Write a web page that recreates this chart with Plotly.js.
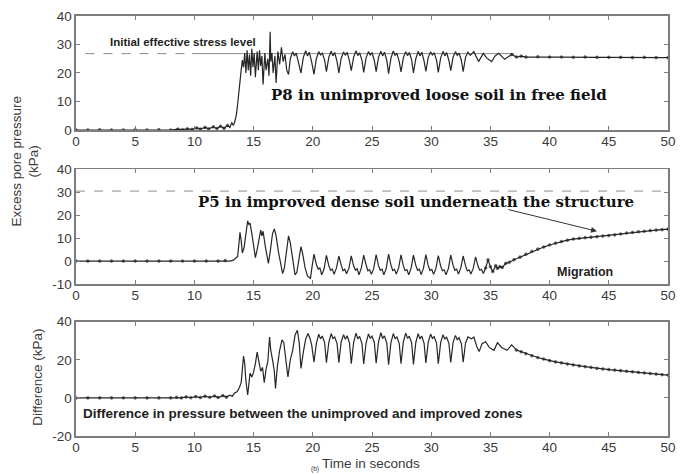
<!DOCTYPE html>
<html>
<head>
<meta charset="utf-8">
<script src="https://cdn.plot.ly/plotly-3.0.1.min.js"></script>
<style>
  html, body { margin: 0; padding: 0; background: #fff; }
  #chart { width: 686px; height: 474px; }
</style>
</head>
<body>
<div id="chart"></div>
<script>
// Excess pore pressure records (time in s, pressure in kPa)

// P8: unimproved loose soil, free field
const p8Series = [
  [0,0],[1,0],[2,0.1],[3,0],[4,0],[5,0.1],[6,0],[7,0.1],[8,0],[8.6,0.3],[9.0,0.1],[9.4,0.4],
  [9.8,0.2],[10.2,0.7],[10.5,0.3],[10.9,0.9],[11.2,0.4],[11.6,1.1],[11.9,0.5],[12.2,1.3],
  [12.5,0.6],[12.8,1.6],[13.0,0.9],[13.15,2.6],[13.3,1.6],[13.45,3.5],[13.55,5.5],[13.65,9],
  [13.75,14],[13.85,18],[13.95,21],[14.05,24.5],[14.15,22],[14.25,27],[14.35,20],[14.45,28],
  [14.55,21],[14.65,26.5],[14.75,19],[14.85,28.5],[14.95,22],[15.05,27],[15.15,18.5],[15.3,27.5],
  [15.4,21],[15.5,28],[15.6,22.5],[15.7,26],[15.8,16],[15.95,27],[16.05,21],[16.2,25],[16.3,19],
  [16.4,34.5],[16.45,24],[16.55,27],[16.65,20],[16.8,26],[16.9,16.5],[17.05,27.5],[17.2,23],
  [17.35,29],[17.5,24],[17.65,26.5],[17.8,21],[17.95,19.5],[18.1,25],[18.3,27.5],[18.45,26],
  [18.6,27],[18.8,23],[19.0,20],
  [19.2,25.5],[19.4,27.8],[19.55,26.0],[19.7,27.3],[19.9,24.0],
  [20.1,19.5],[20.3,25.0],[20.5,27.5],[20.65,26.3],[20.8,27.0],[21.0,24.5],
  [21.15,20.5],[21.35,25.5],[21.55,27.6],[21.7,26.0],[21.85,27.2],[22.05,24.0],
  [22.2,20.0],[22.4,25.2],[22.6,27.4],[22.75,26.2],[22.9,27.3],[23.1,24.2],
  [23.25,20.8],[23.45,25.6],[23.65,27.8],[23.8,26.1],[23.95,27.1],[24.15,24.5],
  [24.3,20.2],[24.5,25.3],[24.7,27.5],[24.85,26.3],[25.0,27.2],[25.2,24.3],
  [25.35,20.5],[25.55,25.5],[25.75,27.6],[25.9,26.0],[26.05,27.3],[26.25,24.4],
  [26.4,19.8],[26.6,25.2],[26.8,27.7],[26.95,26.2],[27.1,27.0],[27.3,24.0],
  [27.45,20.4],[27.65,25.4],[27.85,27.5],[28.0,26.1],[28.15,27.2],[28.35,24.6],
  [28.5,20.0],[28.7,25.0],[28.9,27.6],[29.05,26.0],[29.2,27.3],[29.4,24.2],
  [29.55,20.6],[29.75,25.5],[29.95,27.4],[30.1,26.3],[30.25,27.1],[30.45,24.5],
  [30.6,20.2],[30.8,25.3],[31.0,27.6],[31.15,26.0],[31.3,27.2],[31.5,24.3],
  [31.65,20.8],[31.85,25.6],[32.05,27.5],[32.2,26.2],[32.35,27.0],[32.55,24.4],
  [32.7,20.5],[32.9,25.5],[33.1,27.3],[33.3,26.2],[33.6,27.5],
  [34.0,24.0],[34.4,26.9],[34.7,25.2],[35.1,24.0],[35.4,26.0],[35.7,26.9],[36.2,24.8],
  [36.5,25.8],[36.8,26.5],[37.2,25.6],[37.6,25.9],[38,25.6],[39,25.7],[40,25.6],[41,25.6],
  [42,25.5],[43,25.6],[44,25.5],[45,25.5],[46,25.5],[47,25.4],[48,25.5],[49,25.4],[50,25.4]
];

// P5: improved dense soil under the structure
const p5Series = [
  [0,0],[1,0],[2,0],[3,0],[4,0],[5,0],[6,0],[7,0],[8,0],[9,0],[10,0],[11,0],[12,0],[12.6,0.2],
  [13.0,0],[13.3,0.4],[13.5,1.5],[13.65,2],[13.75,7],[13.85,12.5],[13.95,9],[14.05,3.5],
  [14.2,6],[14.35,12],[14.5,17.5],[14.6,16],[14.7,16.5],[14.85,12],[15.0,6],[15.15,1.5],
  [15.3,5],[15.5,12],[15.6,13.5],[15.7,11],[15.8,13],[16.0,6],[16.15,1],[16.25,-1],[16.4,4],
  [16.6,12],[16.75,14],[16.9,11],[17.1,4],[17.3,-2],[17.45,-5.5],[17.6,-3],[17.8,6],[17.95,11],
  [18.1,8],[18.3,0],[18.5,-6],[18.65,-5],[18.85,2],[19.0,6.3],[19.15,3],[19.35,-3],[19.55,-6.5],
  [19.8,-7.5],[19.95,-2],
  [20.1,3.0],[20.3,-1.5],[20.45,-3.5],[20.6,-3.0],[20.75,-6.0],[20.95,-3.5],
  [21.15,2.5],[21.35,-2.0],[21.5,-4.0],[21.65,-3.5],[21.8,-5.8],[22.0,-3.0],
  [22.2,2.2],[22.4,-1.8],[22.55,-4.2],[22.7,-3.6],[22.85,-5.5],[23.05,-3.2],
  [23.25,2.3],[23.45,-2.2],[23.6,-4.0],[23.75,-3.4],[23.9,-6.0],[24.1,-3.0],
  [24.3,2.6],[24.5,-1.6],[24.65,-4.3],[24.8,-3.8],[24.95,-5.8],[25.15,-3.1],
  [25.35,2.8],[25.55,-2.0],[25.7,-4.0],[25.85,-3.5],[26.0,-6.0],[26.2,-3.3],
  [26.4,3.0],[26.6,-1.8],[26.75,-4.1],[26.9,-3.6],[27.05,-5.7],[27.25,-3.0],
  [27.45,2.7],[27.65,-2.1],[27.8,-4.2],[27.95,-3.7],[28.1,-6.0],[28.3,-3.2],
  [28.5,2.6],[28.7,-1.9],[28.85,-4.0],[29.0,-3.5],[29.15,-5.9],[29.35,-3.1],
  [29.55,2.8],[29.75,-2.0],[29.9,-4.1],[30.05,-3.6],[30.2,-5.8],[30.4,-3.2],
  [30.6,2.4],[30.8,-2.2],[30.95,-4.2],[31.1,-3.8],[31.25,-6.0],[31.45,-3.3],
  [31.65,2.6],[31.85,-1.9],[32.0,-4.0],[32.15,-3.5],[32.3,-5.7],[32.5,-3.0],
  [32.7,2.2],[32.9,-2.0],[33.05,-4.3],[33.2,-3.8],[33.35,-5.6],[33.55,-3.2],
  [33.75,1.8],[33.95,-2.2],[34.1,-4.0],[34.25,-3.6],[34.4,-5.4],[34.6,-3.0],
  [34.8,0.5],[35.0,-2.5],[35.2,-4.6],[35.45,-2.0],[35.6,-3.2],[35.8,-2.4],[36.0,-2.8],
  [36.3,-1.0],[36.6,-0.5],[37.0,0.6],[37.5,1.7],[38.0,3.0],[38.5,4.2],[39.0,5.2],[39.5,6.1],
  [40.0,7.0],[40.5,7.8],[41.0,8.5],[41.5,9.1],[42.0,9.6],[42.5,9.9],[43.0,10.2],[43.5,10.4],
  [44.0,10.6],[44.5,10.9],[45.0,11.1],[45.5,11.4],[46.0,11.8],[46.5,12.2],[47.0,12.5],
  [47.5,12.8],[48.0,13.0],[48.5,13.3],[49.0,13.5],[49.5,13.7],[50.0,13.9]
];

// Difference between the unimproved and improved zones
const diffSeries = [
  [0,0],[1,0],[2,0],[3,0],[4,0],[5,0],[6,0],[7,0],[8,0],[8.5,0.3],[8.9,0],[9.3,0.5],[9.7,0.1],
  [10.1,0.7],[10.5,0.2],[10.9,0.9],[11.3,0.3],[11.7,1.0],[12.0,0.2],[12.4,1.2],[12.7,0.4],
  [13.0,1.4],[13.2,0.8],[13.4,2.6],[13.6,3.2],[13.8,5.5],[13.95,8],[14.05,15],[14.15,22],
  [14.25,18],[14.35,9],[14.5,1.5],[14.6,8],[14.7,13],[14.85,11],[15.0,13.5],[15.15,18],
  [15.3,24],[15.45,19],[15.6,14],[15.75,16],[15.9,8],[16.05,15],[16.2,19],[16.35,32],
  [16.45,25],[16.6,20],[16.75,14],[16.85,5],[17.0,16],[17.2,25],[17.4,30.5],[17.55,29],
  [17.7,22],[17.9,11],[18.1,20],[18.3,25],[18.5,33],[18.7,35.5],[18.85,29],[19.0,15.5],
  [19.2,24],[19.4,31],[19.6,33.8],[19.75,31.5],[19.9,28],
  [20.1,18.8],[20.3,28.5],[20.5,33.5],[20.65,31.0],[20.8,32.5],[21.0,29.0],
  [21.15,18.5],[21.35,29.0],[21.55,33.8],[21.7,31.2],[21.85,32.0],[22.05,28.5],
  [22.2,18.5],[22.4,29.5],[22.6,33.2],[22.75,30.8],[22.9,32.6],[23.1,28.8],
  [23.25,18.0],[23.45,29.2],[23.65,34.0],[23.8,31.0],[23.95,32.3],[24.15,28.6],
  [24.3,17.8],[24.5,28.8],[24.7,33.6],[24.85,31.4],[25.0,32.4],[25.2,29.0],
  [25.35,18.2],[25.55,29.4],[25.75,34.2],[25.9,31.2],[26.05,32.6],[26.25,28.7],
  [26.4,17.5],[26.6,29.0],[26.8,33.8],[26.95,31.0],[27.1,32.2],[27.3,28.5],
  [27.45,18.0],[27.65,29.5],[27.85,34.0],[28.0,31.3],[28.15,32.4],[28.35,28.9],
  [28.5,17.6],[28.7,29.1],[28.9,33.7],[29.05,31.0],[29.2,32.5],[29.4,28.6],
  [29.55,18.3],[29.75,29.3],[29.95,33.5],[30.1,31.2],[30.25,32.2],[30.45,28.8],
  [30.6,18.0],[30.8,29.0],[31.0,33.2],[31.15,30.8],[31.3,32.0],[31.5,28.5],
  [31.65,18.6],[31.85,29.2],[32.05,32.8],[32.2,30.6],[32.35,31.6],[32.55,28.4],
  [32.7,18.8],[32.9,28.8],[33.1,32.0],[33.4,31.0],[33.6,32.0],[33.85,27.0],[34.05,24.3],
  [34.3,28.5],[34.6,29.5],[34.9,26.5],[35.3,25.0],[35.6,29.0],[35.95,26.5],[36.4,25.0],
  [36.8,27.8],[37.2,25.1],[37.6,24.2],[38.0,23.2],[38.5,22.1],[39.0,21.2],[39.5,20.4],
  [40.0,19.6],[40.5,18.9],[41.0,18.4],[41.5,17.8],[42.0,17.3],[42.5,16.8],[43.0,16.4],
  [43.5,16.0],[44.0,15.5],[44.5,15.2],[45.0,14.9],[45.5,14.6],[46.0,14.3],[46.5,14.0],
  [47.0,13.7],[47.5,13.4],[48.0,13.1],[48.5,12.8],[49.0,12.5],[49.5,12.2],[50.0,12.0]
];

// Reference levels (kPa)
const p8StressLevel = 26.8;
const p5StressLevel = 30.5;

// Axis ticks
const timeTicks = [0, 5, 10, 15, 20, 25, 30, 35, 40, 45, 50];
const p8Ticks = [0, 10, 20, 30, 40];
const p5Ticks = [-10, 0, 10, 20, 30, 40];
const diffTicks = [-20, 0, 20, 40];

const traceColor = '#262626';
const refColor = '#8c8c8c';
const frameColor = '#7d7d7d';
const sans = 'Liberation Sans, Arial, sans-serif';
const labelFont = { family: sans, size: 13.5, color: '#3a3a3a' };

// dotted recorder marks on the quiet (non-cyclic) parts of each record
function recordTrace(series, xa, ya, quietBefore, quietAfter) {
  return {
    x: series.map(p => p[0]),
    y: series.map(p => p[1]),
    xaxis: xa, yaxis: ya,
    type: 'scatter',
    mode: 'lines+markers',
    line: { color: traceColor, width: 1.2 },
    marker: {
      color: '#1a1a1a',
      size: series.map(p => (p[0] < quietBefore || p[0] > quietAfter) ? 2.6 : 0)
    },
    hoverinfo: 'skip'
  };
}

function refLine(x0, x1, level, xa, ya, dash) {
  return {
    x: [x0, x1], y: [level, level], xaxis: xa, yaxis: ya,
    type: 'scatter', mode: 'lines',
    line: { color: refColor, width: 1, dash: dash },
    hoverinfo: 'skip'
  };
}

const data = [
  refLine(0.8, 9.8, p8StressLevel, 'x', 'y', 'dash'),
  refLine(9.8, 37, p8StressLevel, 'x', 'y', 'solid'),
  refLine(0, 50, p5StressLevel, 'x2', 'y2', 'dash'),
  recordTrace(p8Series, 'x', 'y', 13, 36.5),
  recordTrace(p5Series, 'x2', 'y2', 13, 34.5),
  recordTrace(diffSeries, 'x3', 'y3', 13, 37)
];

function xAxis(anchor) {
  return {
    anchor: anchor, domain: [0, 1], range: [0, 50],
    tickvals: timeTicks, ticktext: timeTicks.map(String),
    ticks: 'inside', ticklen: 4, tickwidth: 1, tickcolor: frameColor,
    ticklabelstandoff: -2,
    showline: true, linecolor: frameColor, linewidth: 1.6, mirror: 'ticks',
    showgrid: false, zeroline: false, tickfont: labelFont
  };
}
function yAxis(anchor, domain, range, ticks) {
  return {
    anchor: anchor, domain: domain, range: range,
    tickvals: ticks, ticktext: ticks.map(String),
    ticks: 'inside', ticklen: 4, tickwidth: 1, tickcolor: frameColor,
    showline: true, linecolor: frameColor, linewidth: 1.6, mirror: 'ticks',
    showgrid: false, zeroline: false, tickfont: labelFont
  };
}

const boldSans = (size) => ({ family: sans, size: size, color: '#222', weight: 'bold' });
const boldSerif = { family: 'DejaVu Serif, serif', size: 15, color: '#111', weight: 'bold' };

// shared text placement: anchor each label at its centre
function label(props) {
  return Object.assign({ showarrow: false, xanchor: 'center', yanchor: 'middle' }, props);
}

const layout = {
  width: 686, height: 474,
  margin: { l: 76, r: 18, t: 16, b: 38 },
  paper_bgcolor: '#fff', plot_bgcolor: '#fff',
  showlegend: false,
  xaxis: xAxis('y'),
  yaxis: yAxis('x', [0.7286, 1], [0, 40], p8Ticks),
  xaxis2: xAxis('y2'),
  yaxis2: yAxis('x2', [0.3619, 0.635], [-10, 40], p5Ticks),
  xaxis3: xAxis('y3'),
  yaxis3: yAxis('x3', [0, 0.2721], [-20, 40], diffTicks),
  annotations: [
    label({ xref: 'x', yref: 'y', x: 9.0, y: 30.8, text: '<b>Initial effective stress level</b>',
      font: boldSans(11.5) }),
    label({ xref: 'x', yref: 'y', x: 30.66, y: 12.3, text: '<b>P8 in unimproved loose soil in free field</b>',
      font: boldSerif }),
    label({ xref: 'x2', yref: 'y2', x: 28.7, y: 25.9, text: '<b>P5 in improved dense soil underneath the structure</b>',
      font: boldSerif }),
    { xref: 'x2', yref: 'y2', x: 44.0, y: 13.0, axref: 'x2', ayref: 'y2', ax: 36.4, ay: 22.6,
      text: '', showarrow: true, arrowhead: 2, arrowsize: 1.2, arrowwidth: 1, arrowcolor: '#333' },
    label({ xref: 'x2', yref: 'y2', x: 43.0, y: -4.6, text: '<b>Migration</b>',
      font: boldSans(12.5) }),
    label({ xref: 'x3', yref: 'y3', x: 19.13, y: -8.45,
      text: '<b>Difference in pressure between the unimproved and improved zones</b>',
      font: boldSans(13.5) }),
    label({ xref: 'paper', yref: 'paper', x: -0.085, y: 0.655, textangle: -90,
      text: 'Excess pore pressure<br>(kPa)', font: labelFont }),
    label({ xref: 'paper', yref: 'paper', x: -0.064, y: 0.139, textangle: -90,
      text: 'Difference (kPa)', font: labelFont }),
    label({ xref: 'paper', yref: 'paper', x: 0.498, y: -0.066,
      text: 'Time in seconds', font: labelFont }),
    label({ xref: 'paper', yref: 'paper', x: 0.404, y: -0.0795, borderpad: 0,
      text: '(b)', font: { family: sans, size: 6.5, color: '#3a3a3a' } })
  ]
};

Plotly.newPlot('chart', data, layout, { staticPlot: true, displayModeBar: false });
</script>
</body>
</html>
